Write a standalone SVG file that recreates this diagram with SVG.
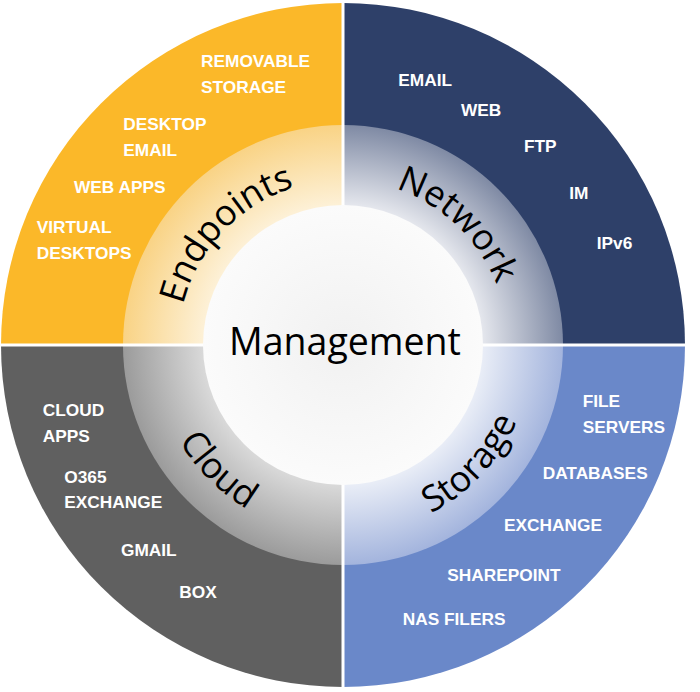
<svg xmlns="http://www.w3.org/2000/svg" xmlns:xlink="http://www.w3.org/1999/xlink" width="700" height="692" viewBox="0 0 700 692">
<style>
.item{font-family:"Liberation Sans",Arial,sans-serif;font-weight:bold;font-size:17.3px;fill:#ffffff}
.ring{font-family:"Open Sans","Noto Sans",sans-serif;font-size:36px;fill:#000000}
.center{font-family:"Open Sans","Noto Sans",sans-serif;font-size:37.5px;fill:#000000}
.gap{stroke:#ffffff;stroke-width:3}
</style>
<defs>
<radialGradient id="gY" gradientUnits="userSpaceOnUse" cx="343" cy="345" r="220">
<stop offset="0.63" stop-color="#fdf1d8"/><stop offset="1" stop-color="#f9d385"/>
</radialGradient>
<radialGradient id="gN" gradientUnits="userSpaceOnUse" cx="343" cy="345" r="220">
<stop offset="0.63" stop-color="#e6e8ee"/><stop offset="1" stop-color="#7f8aa4"/>
</radialGradient>
<radialGradient id="gC" gradientUnits="userSpaceOnUse" cx="343" cy="345" r="220">
<stop offset="0.63" stop-color="#dadada"/><stop offset="1" stop-color="#9b9b9b"/>
</radialGradient>
<radialGradient id="gS" gradientUnits="userSpaceOnUse" cx="343" cy="345" r="220">
<stop offset="0.63" stop-color="#eaeef7"/><stop offset="1" stop-color="#a3b4dd"/>
</radialGradient>
<radialGradient id="gM" gradientUnits="userSpaceOnUse" cx="343" cy="345" r="140">
<stop offset="0" stop-color="#f1f1f1"/><stop offset="1" stop-color="#fbfbfb"/>
</radialGradient>
<path id="pE" d="M184.8,391.9 A165,165 0 0 1 381.5,184.6"/>
<path id="pN" d="M296.1,186.8 A165,165 0 0 1 503.4,383.5"/>
<path id="pC" d="M159.5,295.8 A190,190 0 0 0 392.2,528.5"/>
<path id="pS" d="M300.3,530.1 A190,190 0 0 0 524.7,289.5"/>
</defs>

<g id="endpoints">
<path d="M343,345 L1,345 A342,342 0 0 1 343,3 Z" fill="#fbb829"/>
<path d="M343,345 L123,345 A220,220 0 0 1 343,125 Z" fill="url(#gY)"/>
<text class="item" x="201" y="66.5">REMOVABLE</text>
<text class="item" x="201" y="93">STORAGE</text>
<text class="item" x="123.3" y="130">DESKTOP</text>
<text class="item" x="123.3" y="156">EMAIL</text>
<text class="item" x="74" y="193.3">WEB APPS</text>
<text class="item" x="36.7" y="233.3">VIRTUAL</text>
<text class="item" x="36.7" y="259.3">DESKTOPS</text>
<text class="ring"><textPath xlink:href="#pE" href="#pE" startOffset="50%" text-anchor="middle">Endpoints</textPath></text>
</g>

<g id="network">
<path d="M343,345 L343,3 A342,342 0 0 1 685,345 Z" fill="#2e4069"/>
<path d="M343,345 L343,125 A220,220 0 0 1 563,345 Z" fill="url(#gN)"/>
<text class="item" x="398.3" y="86">EMAIL</text>
<text class="item" x="461" y="116">WEB</text>
<text class="item" x="524" y="152">FTP</text>
<text class="item" x="569.3" y="198.7">IM</text>
<text class="item" x="596.7" y="249.3">IPv6</text>
<text class="ring"><textPath xlink:href="#pN" href="#pN" startOffset="50%" text-anchor="middle">Network</textPath></text>
</g>

<g id="storage">
<path d="M343,345 L685,345 A342,342 0 0 1 343,687 Z" fill="#6a88c9"/>
<path d="M343,345 L563,345 A220,220 0 0 1 343,565 Z" fill="url(#gS)"/>
<text class="item" x="582.7" y="406.7">FILE</text>
<text class="item" x="582.7" y="433.3">SERVERS</text>
<text class="item" x="542.7" y="479.3">DATABASES</text>
<text class="item" x="504" y="530.7">EXCHANGE</text>
<text class="item" x="447.3" y="581">SHAREPOINT</text>
<text class="item" x="402.7" y="625">NAS FILERS</text>
<text class="ring"><textPath xlink:href="#pS" href="#pS" startOffset="50%" text-anchor="middle">Storage</textPath></text>
</g>

<g id="cloud">
<path d="M343,345 L343,687 A342,342 0 0 1 1,345 Z" fill="#606060"/>
<path d="M343,345 L343,565 A220,220 0 0 1 123,345 Z" fill="url(#gC)"/>
<text class="item" x="42.7" y="416">CLOUD</text>
<text class="item" x="42.7" y="441.7">APPS</text>
<text class="item" x="64.3" y="482.7">O365</text>
<text class="item" x="64.3" y="508.3">EXCHANGE</text>
<text class="item" x="121" y="556">GMAIL</text>
<text class="item" x="179.3" y="598.3">BOX</text>
<text class="ring"><textPath xlink:href="#pC" href="#pC" startOffset="50%" text-anchor="middle">Cloud</textPath></text>
</g>

<g id="dividers">
<line class="gap" x1="343" y1="0" x2="343" y2="692"/>
<line class="gap" x1="0" y1="345" x2="700" y2="345"/>
</g>

<g id="management">
<circle cx="343" cy="345" r="140" fill="url(#gM)"/>
<text class="center" x="345" y="355" text-anchor="middle">Management</text>
</g>
</svg>
